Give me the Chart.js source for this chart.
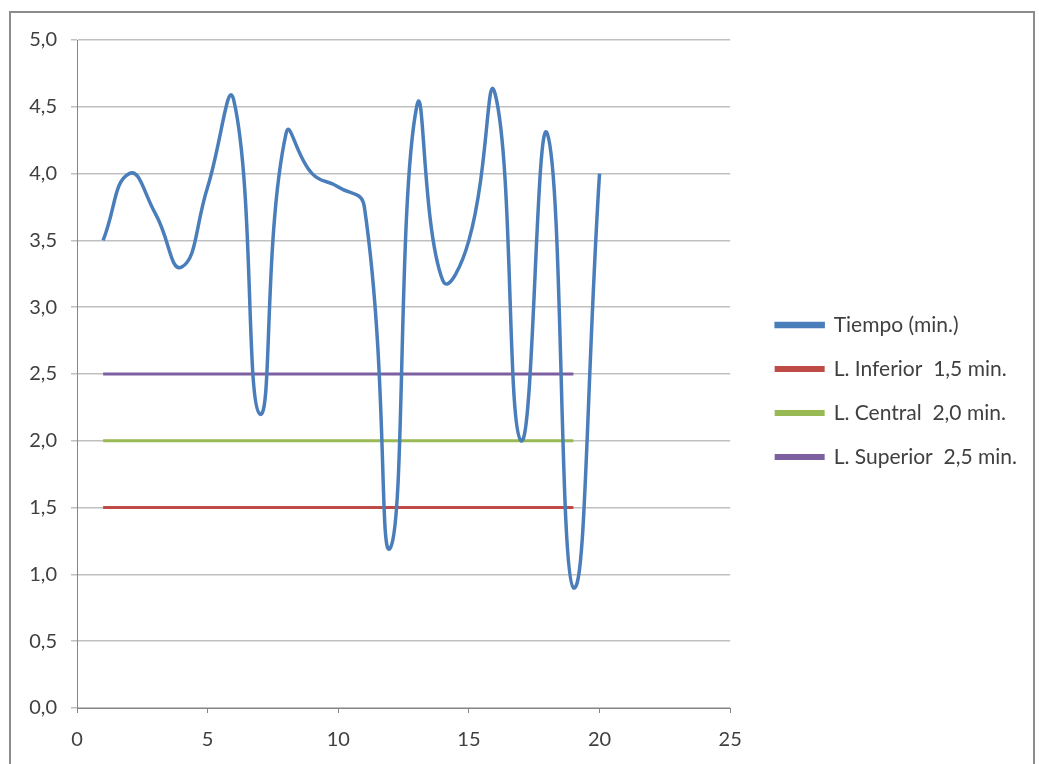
<!DOCTYPE html>
<html>
<head>
<meta charset="utf-8">
<script src="https://cdn.jsdelivr.net/npm/chart.js@4.4.1/dist/chart.umd.min.js"></script>
<style>
  html, body { margin: 0; padding: 0; background: #fff; }
  #wrap { position: relative; width: 1039px; height: 764px; overflow: hidden; }
  #frame { position: absolute; left: 9px; top: 11px; width: 1026px; height: 800px; border: 2px solid #8c8c8c; border-bottom: none; box-sizing: border-box; }
  canvas { position: absolute; left: 0; top: 0; }
</style>
</head>
<body>
<div id="wrap">
  <div id="frame"></div>
  <canvas id="chart" width="1039" height="764"></canvas>
</div>
<script>
// muestras 1..20
var muestras = [1, 2, 3, 4, 5, 6, 7, 8, 9, 10, 11, 12, 13, 14, 15, 16, 17, 18, 19, 20];
var tiempo = [3.5, 4.0, 3.7, 3.3, 3.9, 4.55, 2.2, 4.3, 4.0, 3.9, 3.75, 1.2, 4.5, 3.2, 3.5, 4.6, 2.0, 4.3, 0.9, 4.0];
var limInferior = 1.5;
var limCentral = 2.0;
var limSuperior = 2.5;
var limDesde = 1, limHasta = 19;
var yTicks = [0, 0.5, 1, 1.5, 2, 2.5, 3, 3.5, 4, 4.5, 5];

function pts(xs, ys) {
  var out = [];
  for (var i = 0; i < xs.length; i++) out.push({ x: xs[i], y: ys[i] });
  return out;
}
function flat(v) {
  return [{ x: limDesde, y: v }, { x: limHasta, y: v }];
}
function coma(v) { return v.toFixed(1).replace('.', ','); }

// hueco entre el area del grafico y la leyenda
var legendGap = {
  id: "legendGap",
  beforeInit: function (chart) {
    var box = {
      options: {},
      position: "right", weight: 500, fullSize: false,
      left: 0, top: 0, right: 0, bottom: 0, width: 0, height: 0,
      isHorizontal: function () { return false; },
      update: function (maxW, maxH) { this.width = 23; this.height = maxH; },
      getPadding: function () { return { left: 0, right: 0, top: 0, bottom: 0 }; },
      draw: function () {}
    };
    Chart.layouts.addBox(chart, box);
  }
};

var ctx = document.getElementById("chart").getContext("2d");

new Chart(ctx, {
  type: "line",
  plugins: [legendGap],
  data: {
    datasets: [
      { label: "Tiempo (min.)", data: pts(muestras, tiempo), borderColor: "#4a7ebb", backgroundColor: "#4a7ebb", borderWidth: 3.5, tension: 0.5, pointRadius: 0 },
      { label: "L. Inferior  1,5 min.", data: flat(limInferior), borderColor: "#be4b48", backgroundColor: "#be4b48", borderWidth: 3, pointRadius: 0 },
      { label: "L. Central  2,0 min.", data: flat(limCentral), borderColor: "#98b954", backgroundColor: "#98b954", borderWidth: 3, pointRadius: 0 },
      { label: "L. Superior  2,5 min.", data: flat(limSuperior), borderColor: "#7d60a0", backgroundColor: "#7d60a0", borderWidth: 3, pointRadius: 0 }
    ]
  },
  options: {
    responsive: false,
    animation: false,
    layout: { padding: { top: 40, left: 0, right: 12, bottom: 0 } },
    plugins: {
      tooltip: { enabled: false },
      legend: {
        position: "right",
        align: "start",
        maxWidth: 320,
        // titulo vacio: solo sirve para bajar la leyenda
        title: { display: true, text: "", font: { size: 10 }, padding: { top: 0, bottom: 239.5 } },
        labels: {
          boxWidth: 47,
          boxHeight: 3,
          padding: 23,
          color: "#404040",
          font: { family: "Lato", size: 21 }
        }
      }
    },
    scales: {
      x: {
        type: "linear",
        min: 0,
        max: 25,
        ticks: { stepSize: 5, color: "#404040", font: { family: "Lato", size: 20 }, padding: 15 },
        grid: { drawOnChartArea: false, drawTicks: true, tickLength: 5, color: "#868686" },
        border: { color: "#868686", width: 1 },
        afterFit: function (s) { s.height = 56; }
      },
      y: {
        min: 0,
        max: 5,
        afterBuildTicks: function (s) { s.ticks = yTicks.map(function (v) { return { value: v }; }); },
        ticks: { callback: function (v) { return coma(v); }, color: "#404040", font: { family: "Lato", size: 20 }, padding: 14 },
        grid: { color: "#c0c0c0", lineWidth: 1.5, tickLength: 6 },
        border: { color: "#868686", width: 1 },
        afterFit: function (s) { s.width = 77; }
      }
    }
  }
});
</script>
</body>
</html>
